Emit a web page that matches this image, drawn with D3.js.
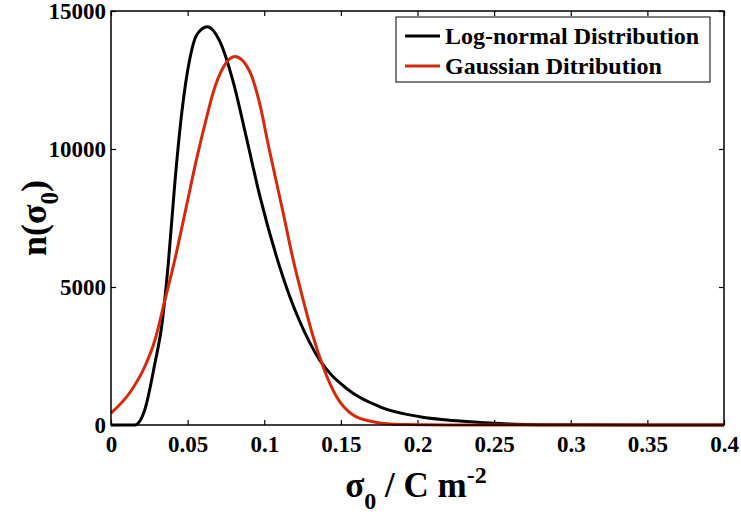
<!DOCTYPE html>
<html>
<head>
<meta charset="utf-8">
<script src="https://cdn.jsdelivr.net/npm/d3@7"></script>
<style>
    body { margin: 0; background: #fff; }
    svg text { font-family: "Liberation Serif", "Times New Roman", serif; font-weight: bold; fill: #000; }
    .frame { fill: none; stroke: #000; stroke-width: 1.5; }
    .curve { fill: none; stroke-width: 3; stroke-linejoin: round; }
</style>
</head>
<body>
<svg id="chart" width="741" height="520"></svg>
<script>
// Log-normal curve
var logX = [0, 0.0156, 0.022, 0.0287, 0.033, 0.0374, 0.0417, 0.046, 0.0515, 0.0559, 0.0628, 0.0711, 0.0797,
            0.0884, 0.0971, 0.108, 0.1167, 0.1232, 0.1362, 0.1536, 0.1754, 0.2014, 0.2275, 0.26, 0.3, 0.4];
var logY = [0, 0, 540, 2250, 3560, 5860, 8800, 11230, 13290, 14130, 14430, 13890, 12440,
            10400, 8300, 6100, 4650, 3750, 2350, 1330, 660, 300, 145, 40, 5, 0];

// Gaussian curve
var gaussX = [0, 0.0135, 0.022, 0.0287, 0.0352, 0.0417, 0.0493, 0.0559, 0.0624, 0.0667, 0.0732, 0.0808,
              0.0906, 0.0966, 0.1032, 0.1123, 0.1189, 0.1254, 0.1319, 0.1384, 0.1471, 0.158, 0.171, 0.19, 0.22, 0.4];
var gaussY = [430, 1270, 2110, 3080, 4530, 6000, 7950, 9650, 11150, 12050, 12950, 13350,
              12800, 11740, 10000, 7700, 5980, 4530, 3200, 2110, 1030, 360, 120, 15, 0, 0];

var xTicks = [0, 0.05, 0.1, 0.15, 0.2, 0.25, 0.3, 0.35, 0.4];
var yTicks = [0, 5000, 10000, 15000];
var seriesNames = ["Log-normal Distribution", "Gaussian Ditribution"];
var seriesColors = ["#000000", "#d22a0c"];

var plotLeft = 111, plotRight = 724, plotTop = 11, plotBottom = 425;

var svg = d3.select("#chart");

var x = d3.scaleLinear().domain([0, 0.4]).range([plotLeft, plotRight]);
var y = d3.scaleLinear().domain([0, 15000]).range([plotBottom, plotTop]);

// ticks point inward on all four sides
function styleAxis(g) {
    g.select(".domain").remove();
    g.selectAll(".tick line").attr("stroke", "#000").attr("stroke-width", 1.2);
}

svg.append("g")
    .attr("transform", "translate(0," + plotBottom + ")")
    .call(d3.axisBottom(x).tickValues(xTicks).tickSize(-5).tickPadding(10)
        .tickFormat(function(d) { return String(+d.toFixed(2)); }))
    .call(styleAxis)
    .selectAll("text").attr("font-size", 23).attr("dy", "0.72em");

svg.append("g")
    .attr("transform", "translate(0," + plotTop + ")")
    .call(d3.axisTop(x).tickValues(xTicks).tickSize(-5).tickFormat(""))
    .call(styleAxis);

svg.append("g")
    .attr("transform", "translate(" + plotLeft + ",0)")
    .call(d3.axisLeft(y).tickValues(yTicks).tickSize(-5).tickPadding(5).tickFormat(d3.format("d")))
    .call(styleAxis)
    .selectAll("text").attr("font-size", 23);

svg.append("g")
    .attr("transform", "translate(" + plotRight + ",0)")
    .call(d3.axisRight(y).tickValues(yTicks).tickSize(-5).tickFormat(""))
    .call(styleAxis);

var line = d3.line()
    .x(function(d) { return x(d[0]); })
    .y(function(d) { return y(d[1]); })
    .curve(d3.curveMonotoneX);

svg.append("path")
    .attr("class", "curve")
    .attr("stroke", seriesColors[0])
    .attr("d", line(d3.zip(logX, logY)));

svg.append("path")
    .attr("class", "curve")
    .attr("stroke", seriesColors[1])
    .attr("d", line(d3.zip(gaussX, gaussY)));

svg.append("rect")
    .attr("class", "frame")
    .attr("x", plotLeft).attr("y", plotTop)
    .attr("width", plotRight - plotLeft).attr("height", plotBottom - plotTop);

// legend
var legend = svg.append("g").attr("transform", "translate(396,17)");
legend.append("rect")
    .attr("width", 314).attr("height", 65)
    .attr("fill", "#fff").attr("stroke", "#000").attr("stroke-width", 1);
seriesNames.forEach(function(name, i) {
    var yy = 19 + i * 30;
    legend.append("line")
        .attr("x1", 9).attr("x2", 44).attr("y1", yy).attr("y2", yy)
        .attr("stroke", seriesColors[i]).attr("stroke-width", 3);
    legend.append("text")
        .attr("x", 49).attr("y", yy + 8)
        .attr("font-size", 24)
        .text(name);
});

// axis titles
var xt = svg.append("text")
    .attr("x", 416).attr("y", 497)
    .attr("text-anchor", "middle")
    .attr("font-size", 35);
xt.append("tspan").text("σ");
xt.append("tspan").attr("font-size", 24).attr("dy", 12).text("0");
xt.append("tspan").attr("dy", -12).text(" / C m");
xt.append("tspan").attr("font-size", 24).attr("dy", -14).text("-2");

var yt = svg.append("text")
    .attr("transform", "translate(46,218) rotate(-90)")
    .attr("text-anchor", "middle")
    .attr("font-size", 36);
yt.append("tspan").text("n(σ");
yt.append("tspan").attr("font-size", 25).attr("dy", 12).text("0");
yt.append("tspan").attr("dy", -12).text(")");
</script>
</body>
</html>
